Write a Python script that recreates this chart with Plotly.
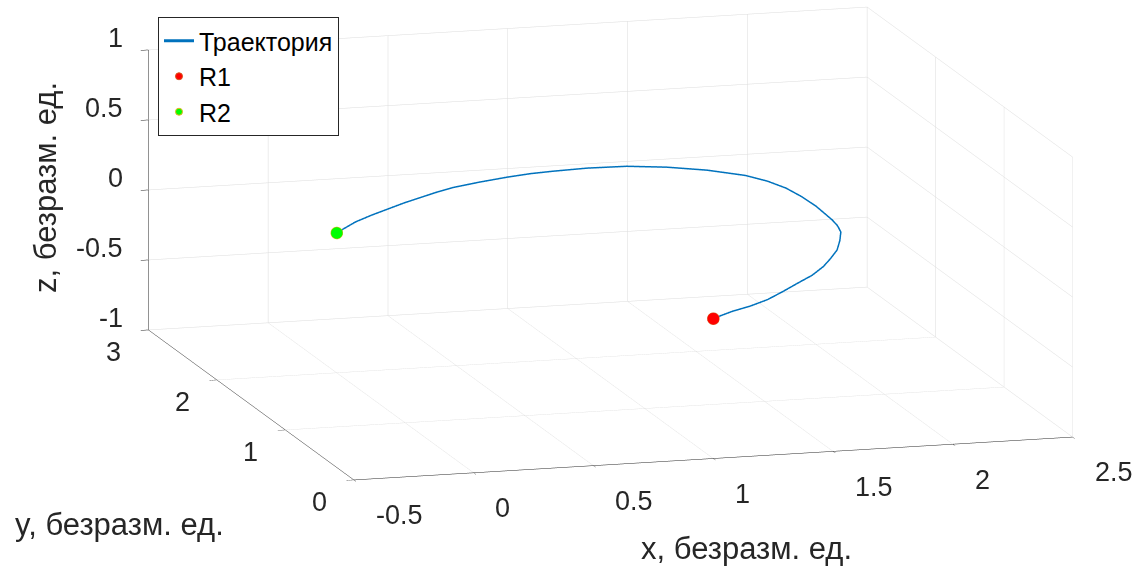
import plotly.graph_objects as go

# Trajectory, dimensionless units
traj_x = [1.00, 1.06, 1.11, 1.21, 1.31, 1.41, 1.52, 1.61, 1.70, 1.77, 1.84, 1.90,
          1.95, 1.97, 1.98, 1.985, 1.99, 1.985, 1.97, 1.935, 1.88, 1.76, 1.62, 1.47,
          1.31, 1.16, 1.06, 0.95, 0.82, 0.69, 0.60, 0.51, 0.42, 0.33, 0.23, 0.13, 0.00]
traj_y = [0.00, 0.06, 0.11, 0.19, 0.29, 0.42, 0.57, 0.69, 0.84, 0.98, 1.13, 1.30,
          1.46, 1.58, 1.69, 1.82, 1.96, 2.16, 2.33, 2.48, 2.61, 2.75, 2.85, 2.91,
          2.92, 2.90, 2.88, 2.84, 2.78, 2.71, 2.64, 2.56, 2.48, 2.39, 2.29, 2.18, 2.00]
traj_z = [0.00, 0.00, 0.00, 0.00, 0.00, 0.00, 0.00, 0.00, 0.00, 0.00, 0.00, 0.00,
          0.00, 0.00, 0.00, 0.00, 0.00, 0.00, 0.00, 0.00, 0.00, 0.00, 0.00, 0.00,
          0.00, 0.00, 0.00, 0.00, 0.00, 0.00, 0.00, 0.00, 0.00, 0.00, 0.00, 0.00, 0.00]

r1_xyz = [1.0, 0.0, 0.0]
r2_xyz = [0.0, 2.0, 0.0]

x_range = [-0.5, 2.5]
y_range = [0, 3]
z_range = [-1, 1]
x_ticks = [-0.5, 0, 0.5, 1, 1.5, 2, 2.5]
x_ticktext = ["-0.5", "0", "0.5", "1", "1.5", "2", "2.5"]
y_ticks = [0, 1, 2, 3]
y_ticktext = ["0", "1", "2", "3"]
z_ticks = [-1, -0.5, 0, 0.5, 1]
z_ticktext = ["-1", "-0.5", "0", "0.5", "1"]

FONT = "Liberation Sans, Arial, Helvetica, sans-serif"
TXT = "#262626"
TICK_SIZE = 27
TITLE_SIZE = 31

fig = go.Figure()
fig.add_trace(go.Scatter3d(x=traj_x, y=traj_y, z=traj_z, mode="lines",
                           line=dict(color="#0072BD", width=3), name="Траектория"))
fig.add_trace(go.Scatter3d(x=[r1_xyz[0]], y=[r1_xyz[1]], z=[r1_xyz[2]], mode="markers",
                           marker=dict(color="#FF0000", size=7,
                                       line=dict(color="#D95319", width=1)), name="R1"))
fig.add_trace(go.Scatter3d(x=[r2_xyz[0]], y=[r2_xyz[1]], z=[r2_xyz[2]], mode="markers",
                           marker=dict(color="#00FF00", size=7,
                                       line=dict(color="#EDB120", width=1)), name="R2"))

def ax(rng, tv):
    return dict(range=rng, tickvals=tv, autorange=False, showticklabels=False,
                showbackground=False, gridcolor="#dcdcdc", gridwidth=1,
                showline=True, linecolor=TXT, linewidth=1,
                ticks="outside", tickcolor=TXT, ticklen=8,
                zeroline=False, showspikes=False,
                title=dict(text=""))

# tick labels as horizontal scene annotations (MATLAB style)
tick_font = dict(family=FONT, size=TICK_SIZE, color=TXT)
scene_ann = []
for v, t in zip(x_ticks, x_ticktext):
    scene_ann.append(dict(x=v, y=y_range[0], z=z_range[0], text=t, showarrow=False,
                          xanchor="left", yanchor="middle", xshift=20, yshift=-35,
                          font=tick_font))
for v, t in zip(y_ticks, y_ticktext):
    scene_ann.append(dict(x=x_range[0], y=v, z=z_range[0], text=t, showarrow=False,
                          xanchor="right", yanchor="middle", xshift=-25, yshift=-22,
                          font=tick_font))
for v, t in zip(z_ticks, z_ticktext):
    scene_ann.append(dict(x=x_range[0], y=y_range[1], z=v, text=t, showarrow=False,
                          xanchor="right", yanchor="middle", xshift=-23, yshift=12,
                          font=tick_font))

k = 3.07
r = 12.0
title_font = dict(family=FONT, size=TITLE_SIZE, color=TXT)
fig.update_layout(
    width=1143, height=568,
    margin=dict(l=0, r=0, t=0, b=0),
    paper_bgcolor="white",
    font=dict(family=FONT, size=24, color=TXT),
    showlegend=True,
    legend=dict(x=158/1143, y=1-17/568, xanchor="left", yanchor="top",
                bgcolor="white", bordercolor=TXT, borderwidth=1,
                font=dict(family=FONT, size=25, color="black")),
    scene=dict(
        domain=dict(x=[0.068, 1.0], y=[0.142, 1.0]),
        xaxis=ax(x_range, x_ticks),
        yaxis=ax(y_range, y_ticks),
        zaxis=ax(z_range, z_ticks),
        aspectmode="manual",
        aspectratio=dict(x=1*k, y=1*k, z=0.383*k),
        camera=dict(eye=dict(x=-0.2688*r, y=-0.9405*r, z=0.2087*r),
                    up=dict(x=0, y=0, z=1), center=dict(x=0, y=0, z=0),
                    projection=dict(type="orthographic")),
        annotations=scene_ann,
    ),
    annotations=[
        dict(text="x, безразм. ед.", x=747/1143, y=1-548/568, xref="paper", yref="paper",
             xanchor="center", yanchor="middle", showarrow=False, font=title_font),
        dict(text="y, безразм. ед.", x=119/1143, y=1-524/568, xref="paper", yref="paper",
             xanchor="center", yanchor="middle", showarrow=False, font=title_font),
        dict(text="z, безразм. ед.", x=45/1143, y=1-188/568, xref="paper", yref="paper",
             xanchor="center", yanchor="middle", showarrow=False, textangle=-90,
             font=title_font),
    ],
)

fig.write_html("out.html")
